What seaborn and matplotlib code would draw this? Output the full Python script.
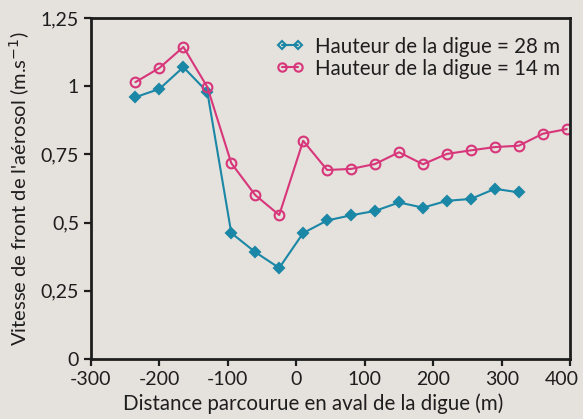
import numpy as np
import pandas as pd
import matplotlib
matplotlib.use("Agg")
import matplotlib.pyplot as plt
import matplotlib.transforms as mtransforms
import seaborn as sns

# Data
dist_28 = [-235, -200, -165, -130, -95, -60, -25, 10, 45, 80, 115, 150, 185, 220, 255, 290, 325]
vit_28 = [0.960, 0.990, 1.070, 0.979, 0.462, 0.392, 0.334, 0.462, 0.508, 0.527, 0.543,
          0.574, 0.555, 0.580, 0.587, 0.624, 0.611]
dist_14 = [-235, -200, -165, -130, -95, -60, -25, 10, 45, 80, 115, 150, 185, 220, 255, 290, 325, 360, 395]
vit_14 = [1.015, 1.067, 1.144, 0.997, 0.718, 0.601, 0.528, 0.800, 0.693, 0.697, 0.715,
          0.758, 0.714, 0.752, 0.765, 0.777, 0.782, 0.826, 0.843]
labels = ["Hauteur de la digue = 28 m", "Hauteur de la digue = 14 m"]

df = pd.concat([
    pd.DataFrame({"distance": dist_28, "vitesse": vit_28, "serie": labels[0]}),
    pd.DataFrame({"distance": dist_14, "vitesse": vit_14, "serie": labels[1]}),
])

bg = "#e5e1dc"
teal = "#1a87a6"
pink = "#d8367a"
ink = "#1e1e1e"

sns.set_theme(style="ticks")
plt.rcParams["font.family"] = ["Lato", "DejaVu Sans"]
plt.rcParams["axes.unicode_minus"] = False

fig = plt.figure(figsize=(5.83, 4.19), dpi=100, facecolor=bg)
ax = fig.add_axes([0.156, 0.143, 0.822, 0.814], facecolor=bg)

sns.lineplot(data=df, x="distance", y="vitesse", hue="serie", style="serie",
             palette={labels[0]: teal, labels[1]: pink},
             markers={labels[0]: "D", labels[1]: "o"}, dashes=False,
             markersize=6, linewidth=1.5, ax=ax, legend=False)

# marker styling: teal diamonds with thick edge, pink open circles
for line, col, face, ms in zip(ax.lines, [teal, pink], [teal, "none"], [5, 7]):
    line.set_markeredgecolor(col)
    line.set_markerfacecolor(face)
    line.set_markeredgewidth(1.5)
    line.set_markersize(ms)

ax.set_xlim(-300, 400)
ax.set_ylim(0, 1.25)
ax.set_xticks(np.arange(-300, 401, 100))
ax.set_yticks([0, 0.25, 0.5, 0.75, 1, 1.25])
ax.set_yticklabels(["0", "0,25", "0,5", "0,75", "1", "1,25"])
ax.tick_params(colors=ink, labelsize=14, width=1.6, length=5, direction="out")

# last x tick label nudged left so it stays inside the figure
last = ax.get_xticklabels()[-1]
last.set_transform(last.get_transform() + mtransforms.ScaledTranslation(-8 / 100, 0, fig.dpi_scale_trans))

for sp in ax.spines.values():
    sp.set_visible(True)
    sp.set_linewidth(2)
    sp.set_color(ink)

ax.set_xlabel("Distance parcourue en aval de la digue (m)", fontsize=14.8, color=ink, labelpad=7)
ax.xaxis.set_label_coords(0.463, -0.1)
ax.set_ylabel("Vitesse de front de l'aérosol (m.s$^{-1}$)", fontsize=14.5, color=ink, labelpad=6)

handles = [plt.Line2D([], [], color=teal, marker="D", markersize=4.5, markerfacecolor="none",
                      markeredgewidth=1.5, linewidth=1.5),
           plt.Line2D([], [], color=pink, marker="o", markersize=6, markerfacecolor="none",
                      markeredgewidth=1.5, linewidth=1.5)]
ax.legend(handles, labels, loc="upper right", bbox_to_anchor=(1.017, 1.0), frameon=False,
          fontsize=14.8, numpoints=2, handlelength=1.4, handletextpad=0.5, labelspacing=0.1,
          borderaxespad=0.5, labelcolor=ink)

fig.savefig("out.png", dpi=100, facecolor=bg)
